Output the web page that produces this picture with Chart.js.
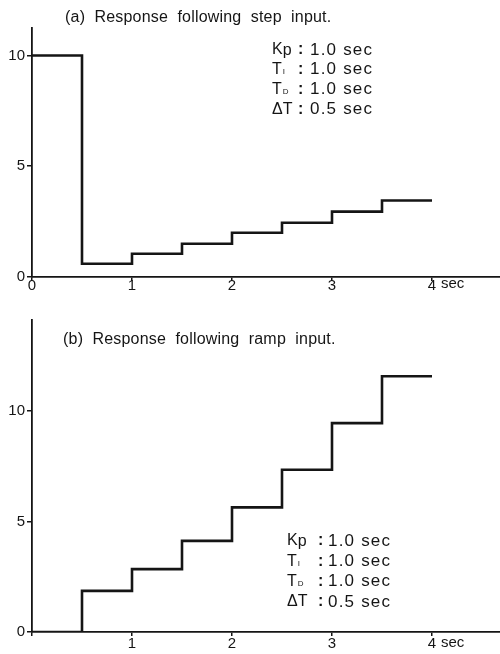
<!DOCTYPE html>
<html>
<head>
<meta charset="utf-8">
<script src="https://cdn.jsdelivr.net/npm/chart.js@4.4.0/dist/chart.umd.min.js"></script>
<style>
  body { margin: 0; background: #fff; }
  .panel { position: absolute; left: 0; }
</style>
</head>
<body>
<canvas id="stepChart" class="panel" width="500" height="300" style="top:0"></canvas>
<canvas id="rampChart" class="panel" width="500" height="354" style="top:300px"></canvas>
<script>
// sample instants (sec), one held value per 0.5 sec interval, last point closes the final step
const times = [0, 0.5, 1, 1.5, 2, 2.5, 3, 3.5, 4];
const stepResponse = [10, 0.6, 1.05, 1.5, 2.0, 2.45, 2.95, 3.45, 3.45];
const rampResponse = [0, 1.86, 2.84, 4.12, 5.63, 7.33, 9.44, 11.56, 11.56];

const xTicks = [0, 1, 2, 3, 4];
const yTicks = [0, 5, 10];

const paramNames = [["K", "p"], ["T", "I"], ["T", "D"], ["\u0394T", ""]];
const paramValues = ["1.0 sec", "1.0 sec", "1.0 sec", "0.5 sec"];

const INK = "#151515";
const FONT = "'Liberation Sans', Arial, sans-serif";

// titles, parameter block and the "sec" unit next to the last x tick
const annotate = {
  id: "annotate",
  afterDraw(chart) {
    const o = chart.options.plugins.annotate;
    const ctx = chart.ctx;
    const xs = chart.scales.x;
    ctx.save();
    ctx.fillStyle = INK;
    ctx.textBaseline = "middle";
    ctx.textAlign = "left";

    ctx.font = "16px " + FONT;
    ctx.letterSpacing = "0.2px";
    ctx.fillText(o.title, o.titleX, o.titleY);

    paramNames.forEach((name, i) => {
      const y = o.paramY + i * o.paramGap;
      ctx.letterSpacing = "0px";
      ctx.font = "16px " + FONT;
      ctx.fillText(name[0], o.paramX, y);
      const w = ctx.measureText(name[0]).width;
      if (name[1]) {
        const big = name[1] === "p";
        ctx.font = (big ? "16px " : "8px ") + FONT;
        ctx.fillText(name[1], o.paramX + w + (big ? 0 : 1), y + (big ? 1 : 2));
      }
      ctx.font = "bold 16px " + FONT;
      ctx.fillText(":", o.colonX, y);
      ctx.font = "17px " + FONT;
      ctx.letterSpacing = "1.2px";
      ctx.fillText(paramValues[i], o.valueX, y);
    });

    ctx.letterSpacing = "0px";
    ctx.font = "15px " + FONT;
    ctx.fillText("sec", xs.getPixelForValue(4) + 9, o.secY);
    ctx.restore();
  }
};

function makePanel(id, values, cfg) {
  return new Chart(document.getElementById(id), {
    type: "line",
    data: {
      datasets: [{
        data: times.map((t, i) => ({ x: t, y: values[i] })),
        stepped: true,
        borderColor: INK,
        borderWidth: 2.6,
        pointRadius: 0,
        fill: false
      }]
    },
    options: {
      responsive: false,
      animation: false,
      layout: { padding: { top: cfg.top, right: 0, left: 0, bottom: 0 } },
      plugins: {
        legend: { display: false },
        tooltip: { enabled: false },
        annotate: cfg.text
      },
      scales: {
        x: {
          type: "linear",
          min: 0,
          max: 4.68,
          afterFit(s) { s.height = cfg.xHeight; },
          afterBuildTicks(s) { s.ticks = xTicks.map(v => ({ value: v })); },
          ticks: {
            autoSkip: false,
            maxRotation: 0,
            padding: cfg.xPad,
            color: INK,
            font: { family: FONT, size: 15 },
            callback: v => (v === 0 && !cfg.showZeroX) ? "" : String(v)
          },
          grid: { drawOnChartArea: false, drawTicks: true, tickLength: 4, color: INK, lineWidth: 1.5 },
          border: { color: INK, width: 1.8 }
        },
        y: {
          min: 0,
          max: cfg.yMax,
          afterFit(s) { s.width = 32; },
          afterBuildTicks(s) { s.ticks = yTicks.map(v => ({ value: v })); },
          ticks: {
            padding: 2,
            color: INK,
            font: { family: FONT, size: 15 },
            callback: v => String(v)
          },
          grid: { drawOnChartArea: false, drawTicks: true, tickLength: 5, color: INK, lineWidth: 1.5 },
          border: { color: INK, width: 1.8 }
        }
      }
    },
    plugins: [annotate]
  });
}

makePanel("stepChart", stepResponse, {
  top: 28, xHeight: 23, xPad: -4, yMax: 11.24, showZeroX: true,
  text: {
    title: "(a)  Response  following  step  input.",
    titleX: 65, titleY: 18,
    paramX: 272, paramY: 50, paramGap: 19.7,
    colonX: 298, valueX: 310,
    secY: 284
  }
});

makePanel("rampChart", rampResponse, {
  top: 20, xHeight: 22, xPad: -1, yMax: 14.1, showZeroX: false,
  text: {
    title: "(b)  Response  following  ramp  input.",
    titleX: 63, titleY: 40,
    paramX: 287, paramY: 241, paramGap: 20.3,
    colonX: 318, valueX: 328,
    secY: 343
  }
});
</script>
</body>
</html>
